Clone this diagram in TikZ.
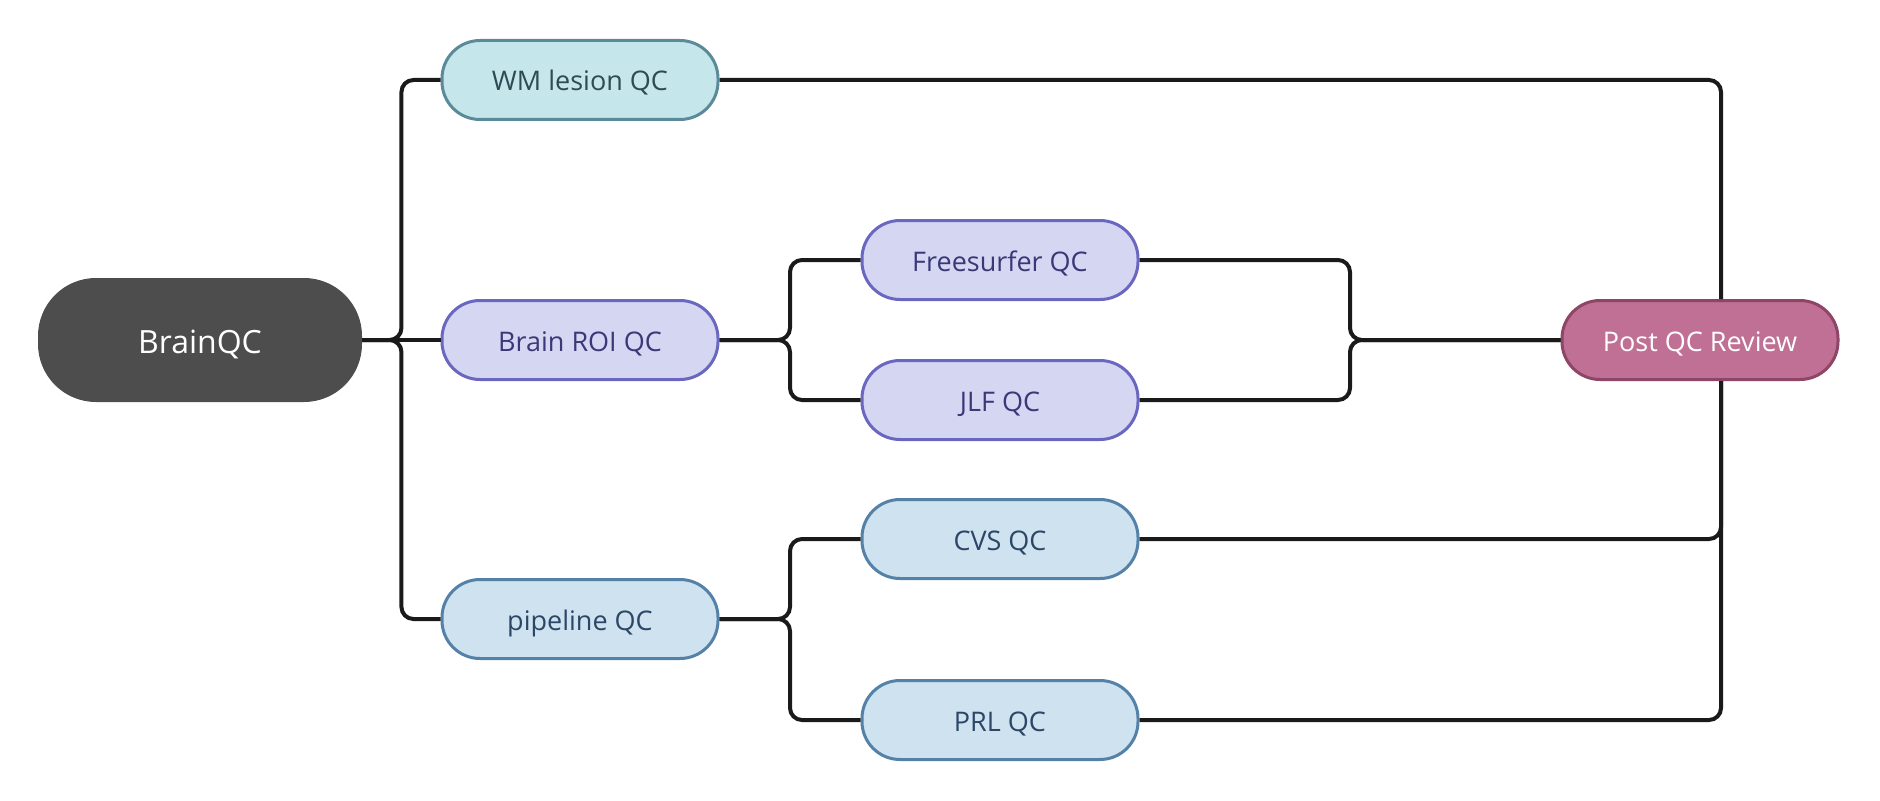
\documentclass[tikz,border=0pt]{standalone}
\usepackage{fontspec}
\setmainfont{Open Sans}
\usetikzlibrary{calc,positioning}

\definecolor{rootfill}{HTML}{4D4D4D}
\definecolor{wmfill}{HTML}{C5E7EB}
\definecolor{wmline}{HTML}{5B8A99}
\definecolor{wmtext}{HTML}{2E4A55}
\definecolor{roifill}{HTML}{D4D6F2}
\definecolor{roiline}{HTML}{6A67C0}
\definecolor{roitext}{HTML}{3B3878}
\definecolor{pipefill}{HTML}{CFE2F0}
\definecolor{pipeline}{HTML}{5481A8}
\definecolor{pipetext}{HTML}{2C4766}
\definecolor{postfill}{HTML}{BF7094}
\definecolor{postline}{HTML}{8F4565}
\definecolor{linkcol}{HTML}{1A1A1A}

\begin{document}
\begin{tikzpicture}[
            box/.style={rectangle, rounded corners=19pt, line width=1.5pt, minimum width=138pt,
            minimum height=39.5pt, inner sep=0pt, text height=12pt, text depth=1pt,
            font=\fontsize{13.5}{16}\selectfont},
            wmbox/.style={box, draw=wmline, fill=wmfill, text=wmtext},
            roibox/.style={box, draw=roiline, fill=roifill, text=roitext},
            pipebox/.style={box, draw=pipeline, fill=pipefill, text=pipetext},
            link/.style={draw=linkcol, line width=2pt, rounded corners=6pt},
            branch/.style={to path={-| ($(\tikztostart)!.5!(\tikztotarget)$) |- (\tikztotarget)}}]
            \useasboundingbox (0,0) rectangle (940pt,400pt);

            \node (brain) [rectangle, rounded corners=29pt, fill=rootfill, text=white, minimum width=162pt,
            minimum height=62pt, inner sep=0pt, text height=14pt, text depth=1pt,
            font=\fontsize{16}{19}\selectfont] at (100pt,230pt) {BrainQC};

            \node (wm) [wmbox] at (290pt,360pt) {WM lesion QC};
            \node (roi) [roibox] at (290pt,230pt) {Brain ROI QC};
            \node (pipe) [pipebox] at (290pt,90.5pt) {pipeline QC};

            \node (fs) [roibox] at (500pt,270pt) {Freesurfer QC};
            \node (jlf) [roibox] at (500pt,200pt) {JLF QC};
            \node (cvs) [pipebox] at (500pt,130.5pt) {CVS QC};
            \node (prl) [pipebox] at (500pt,40pt) {PRL QC};

            \node (post) [box, draw=postline, fill=postfill, text=white] at (850pt,230pt) {Post QC Review};

            \draw [link] (brain.east) to[branch] (wm.west);
            \draw [link] (brain.east) -- (roi.west);
            \draw [link] (brain.east) to[branch] (pipe.west);
            \draw [link] (roi.east) to[branch] (fs.west);
            \draw [link] (roi.east) to[branch] (jlf.west);
            \draw [link] (pipe.east) to[branch] (cvs.west);
            \draw [link] (pipe.east) to[branch] (prl.west);
            \draw [link] (fs.east) to[branch] (post.west);
            \draw [link] (jlf.east) to[branch] (post.west);
            \draw [link] (wm.east) -| ([xshift=10.5pt]post.north);
            \draw [link] (cvs.east) -| ([xshift=10.5pt]post.south);
            \draw [link] (prl.east) -| ([xshift=10.5pt]post.south);
        \end{tikzpicture}
\end{document}
